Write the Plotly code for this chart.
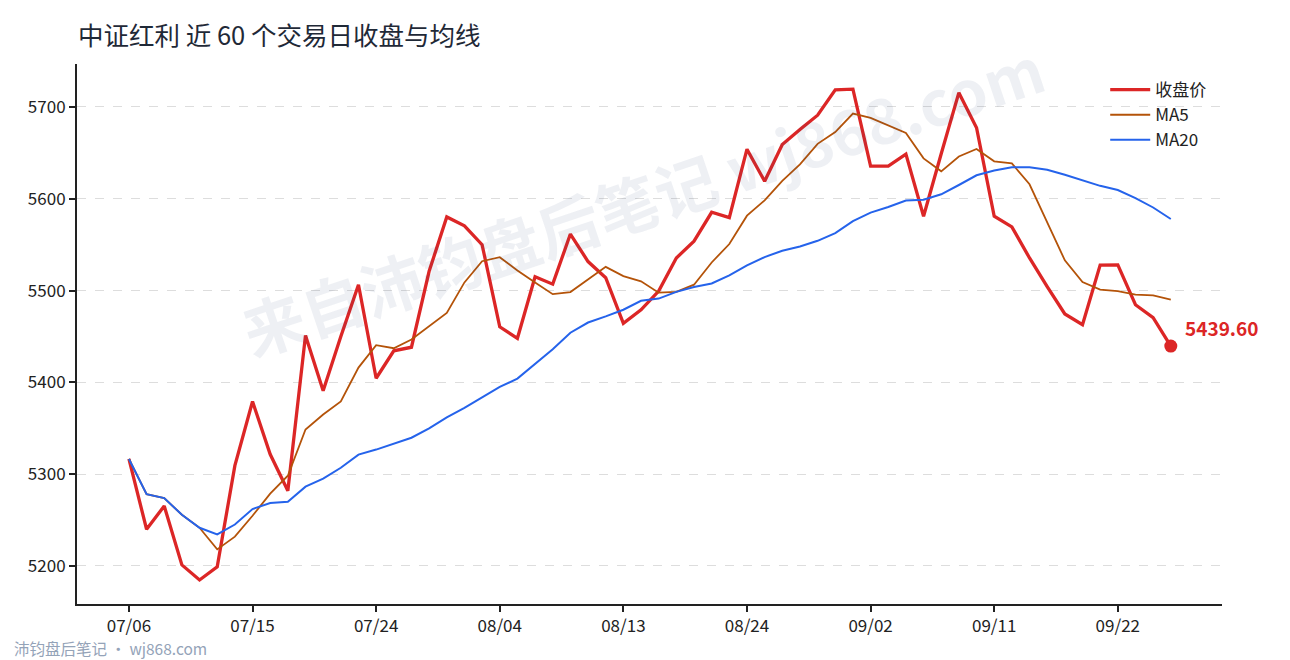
import plotly.graph_objects as go

# ---------------- data ----------------
DATES = ["07/06", "07/07", "07/08", "07/09", "07/10", "07/13", "07/14", "07/15", "07/16", "07/17",
         "07/20", "07/21", "07/22", "07/23", "07/24", "07/27", "07/28", "07/29", "07/30", "07/31",
         "08/03", "08/04", "08/05", "08/06", "08/07", "08/10", "08/11", "08/12", "08/13", "08/14",
         "08/17", "08/18", "08/19", "08/20", "08/21", "08/24", "08/25", "08/26", "08/27", "08/28",
         "08/31", "09/01", "09/02", "09/03", "09/04", "09/07", "09/08", "09/09", "09/10", "09/11",
         "09/14", "09/15", "09/16", "09/17", "09/18", "09/21", "09/22", "09/23", "09/24", "09/25"]

CLOSE = [5316.6, 5240.0, 5265.3, 5201.2, 5184.8, 5199.2, 5309.3, 5379.2, 5321.7, 5282.0,
         5451.2, 5390.9, 5450.0, 5506.4, 5404.5, 5434.4, 5438.3, 5521.0, 5580.2, 5570.5,
         5550.0, 5460.5, 5448.0, 5515.0, 5507.0, 5561.6, 5531.6, 5514.0, 5464.4, 5479.0,
         5499.4, 5535.5, 5553.8, 5585.3, 5579.5, 5654.0, 5619.1, 5659.2, 5675.5, 5691.0,
         5718.7, 5719.4, 5635.5, 5635.5, 5648.7, 5581.0, 5649.0, 5715.6, 5677.4, 5581.0,
         5569.4, 5535.5, 5504.4, 5474.5, 5462.8, 5527.8, 5528.0, 5484.6, 5470.6, 5439.6]

MA5 = [5316.6, 5278.3, 5274.0, 5255.8, 5241.6, 5218.1, 5232.0, 5254.7, 5278.8, 5298.3,
       5348.7, 5365.0, 5379.2, 5416.1, 5440.6, 5437.2, 5446.7, 5460.9, 5475.7, 5508.9,
       5532.0, 5536.4, 5521.8, 5508.8, 5496.1, 5498.4, 5512.6, 5525.8, 5515.7, 5510.1,
       5497.7, 5498.5, 5506.4, 5530.6, 5550.7, 5581.6, 5598.3, 5619.4, 5637.5, 5659.8,
       5672.7, 5692.8, 5688.0, 5680.0, 5671.6, 5644.0, 5629.9, 5646.0, 5654.3, 5640.8,
       5638.5, 5615.8, 5573.5, 5533.0, 5509.3, 5501.0, 5499.5, 5495.5, 5494.8, 5490.1]

MA20 = [5316.6, 5278.3, 5274.0, 5255.8, 5241.6, 5234.5, 5245.2, 5262.0, 5268.6, 5269.9,
        5286.4, 5295.1, 5307.0, 5321.3, 5326.8, 5333.5, 5339.7, 5349.8, 5361.9, 5372.3,
        5384.0, 5395.0, 5404.2, 5419.9, 5436.0, 5454.1, 5465.2, 5471.9, 5479.1, 5488.9,
        5491.3, 5498.6, 5503.8, 5507.7, 5516.5, 5527.4, 5536.5, 5543.4, 5548.1, 5554.2,
        5562.6, 5575.6, 5584.9, 5591.0, 5598.0, 5599.0, 5604.9, 5615.0, 5625.6, 5630.7,
        5634.2, 5634.2, 5631.7, 5626.2, 5620.4, 5614.1, 5609.5, 5600.8, 5590.5, 5578.0]

TICK_LABELS = ["07/06", "07/15", "07/24", "08/04", "08/13", "08/24", "09/02", "09/11", "09/22"]
Y_TICKS = [5200, 5300, 5400, 5500, 5600, 5700]

TITLE = "中证红利 近 60 个交易日收盘与均线"
WATERMARK = "来自沛钧盘后笔记 wj868.com"
FOOTER = "沛钧盘后笔记 · wj868.com"

# ---------------- styling ----------------
FONT = "Noto Sans CJK SC"
RED = "#dc2626"
ORANGE = "#b45309"
BLUE = "#2563eb"
AXIS = "#222222"

# the page body adds an 8px offset, so the figure is 8px smaller on each axis
W, H = 1282, 652
OFF = 8

fig = go.Figure()
fig.add_trace(go.Scatter(x=DATES, y=CLOSE, mode="lines", name="收盘价",
                         line=dict(color=RED, width=3.3)))
fig.add_trace(go.Scatter(x=DATES, y=MA5, mode="lines", name="MA5",
                         line=dict(color=ORANGE, width=1.8)))
fig.add_trace(go.Scatter(x=DATES, y=MA20, mode="lines", name="MA20",
                         line=dict(color=BLUE, width=2)))
fig.add_trace(go.Scatter(x=[DATES[-1]], y=[CLOSE[-1]], mode="markers", showlegend=False,
                         marker=dict(color=RED, size=13)))

fig.add_annotation(x=DATES[-1], y=CLOSE[-1], text=f"<b>{CLOSE[-1]:.2f}</b>", showarrow=False,
                   xanchor="left", yanchor="middle", xshift=12, yshift=19,
                   font=dict(family=FONT, size=19, color=RED))

fig.add_annotation(x=0.4934, y=0.752, xref="paper", yref="paper", text=f"<b>{WATERMARK}</b>",
                   showarrow=False, textangle=-18.6, xanchor="center", yanchor="middle",
                   font=dict(family=FONT, size=62, color="rgba(40,60,120,0.08)"))

fig.add_annotation(x=-0.0568, y=-0.0815, xref="paper", yref="paper", text=FOOTER,
                   showarrow=False, xanchor="left", yanchor="middle",
                   font=dict(family=FONT, size=15.5, color="#94a3b8"))

fig.update_layout(
    width=W, height=H,
    margin=dict(l=77 - OFF, r=68, t=64 - OFF, b=56),
    paper_bgcolor="white", plot_bgcolor="white",
    font=dict(family=FONT, size=15, color="#222222"),
    title=dict(text=TITLE, x=(78 - OFF) / W, xref="container", xanchor="left",
               y=1 - (36 - OFF) / H, yref="container", yanchor="middle",
               font=dict(family=FONT, size=25.5, color="#1f2937")),
    legend=dict(x=0.898, y=0.985, xanchor="left", yanchor="top", bgcolor="rgba(0,0,0,0)",
                font=dict(family=FONT, size=17, color="#222222"), tracegroupgap=0,
                itemwidth=40),
    showlegend=True,
)

fig.update_xaxes(
    type="category", range=[-2.94, 61.9],
    tickmode="array", tickvals=TICK_LABELS, ticktext=TICK_LABELS,
    showline=True, linecolor=AXIS, linewidth=2,
    ticks="outside", ticklen=6, tickwidth=2, tickcolor=AXIS,
    showgrid=False, zeroline=False,
    tickfont=dict(family=FONT, size=17, color="#222222"),
)
fig.update_yaxes(
    range=[5158.6, 5746.8],
    tickmode="array", tickvals=Y_TICKS,
    showline=True, linecolor=AXIS, linewidth=2,
    ticks="outside", ticklen=6, tickwidth=2, tickcolor=AXIS,
    showgrid=True, gridcolor="#dddddd", gridwidth=1, griddash="dash",
    zeroline=False,
    tickfont=dict(family=FONT, size=17, color="#222222"),
)

fig.write_html("out.html")
